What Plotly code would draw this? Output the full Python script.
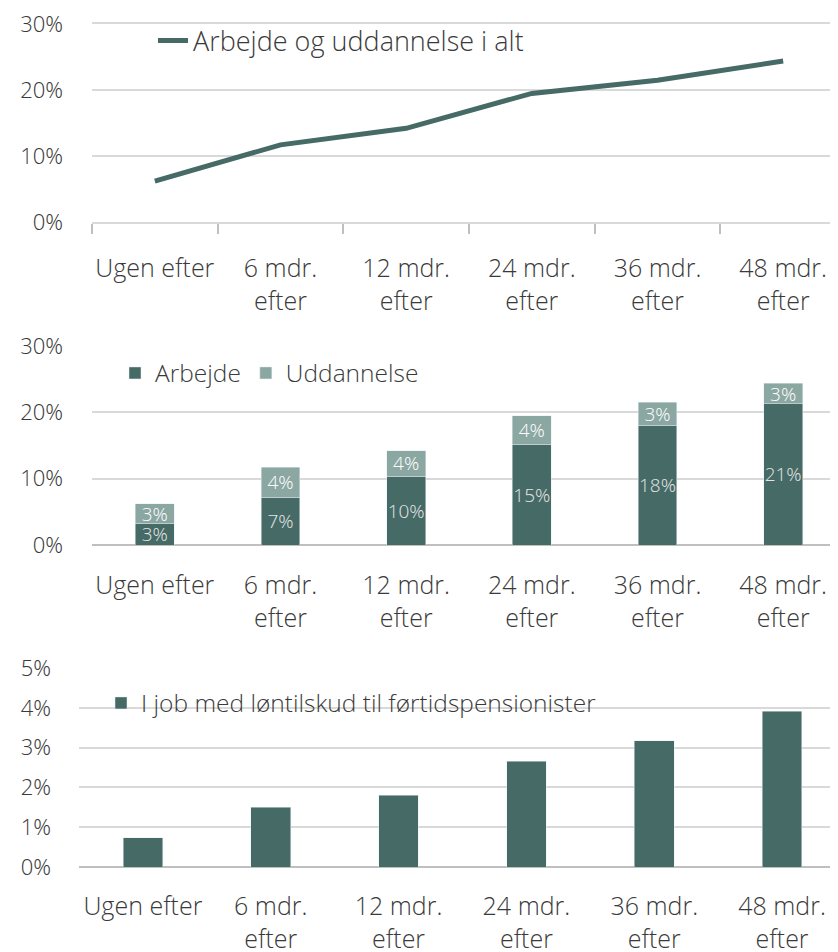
import plotly.graph_objects as go

categories = ["Ugen efter", "6 mdr.<br>efter", "12 mdr.<br>efter", "24 mdr.<br>efter", "36 mdr.<br>efter", "48 mdr.<br>efter"]

# top panel: total share in work or education
total = [0.062, 0.117, 0.142, 0.195, 0.215, 0.244]

# middle panel: split into work and education
arbejde = [0.033, 0.072, 0.104, 0.152, 0.181, 0.213]
uddannelse = [0.029, 0.045, 0.038, 0.043, 0.034, 0.031]

# bottom panel: wage subsidy jobs
loentilskud = [0.0073, 0.015, 0.018, 0.0266, 0.0317, 0.0392]

dark = "#466a66"
light = "#8ba7a2"
grid = "#d9d9d9"
family = "Open Sans Light, Lato Light, Open Sans, sans-serif"
font = dict(family=family, size=22, color="#3a3a3a", weight=300)
xfont = dict(font, size=25)
legfont = dict(font, size=24.5)

fig = go.Figure()

fig.add_trace(go.Scatter(
    x=categories, y=total, mode="lines", name="Arbejde og uddannelse i alt",
    line=dict(color=dark, width=5), xaxis="x", yaxis="y", legend="legend", showlegend=True,
))

fig.add_trace(go.Bar(
    x=categories, y=arbejde, name="Arbejde", marker=dict(color=dark), showlegend=True,
    text=[f"{v:.0%}" for v in arbejde], textposition="inside", insidetextanchor="middle",
    textangle=0, constraintext="none",
    textfont=dict(color="#e4e4e4", size=19, family=family), xaxis="x2", yaxis="y2", legend="legend2",
))
fig.add_trace(go.Bar(
    x=categories, y=uddannelse, name="Uddannelse", marker=dict(color=light), showlegend=True,
    text=[f"{v:.0%}" for v in uddannelse], textposition="inside", insidetextanchor="middle",
    textangle=0, constraintext="none",
    textfont=dict(color="#ffffff", size=19, family=family), xaxis="x2", yaxis="y2", legend="legend2",
))

fig.add_trace(go.Bar(
    x=categories, y=loentilskud, name="I job med løntilskud til førtidspensionister",
    marker=dict(color=dark), xaxis="x3", yaxis="y3", legend="legend3", showlegend=True,
))

# the page puts the figure 8px in from the top-left corner
OFF = 8
H = 952.0
W = 838.0

def py(pix):
    return 1 - (pix - OFF) / H

def px(pix):
    return (pix - OFF) / W

xcommon = dict(type="category", showgrid=False, tickfont=xfont, ticks="", showline=False,
               fixedrange=True, zeroline=False, automargin=False, range=[-0.5, 5.5],
               tickangle=0)
ycommon = dict(showgrid=True, gridcolor=grid, gridwidth=2, tickformat=".0%", tickfont=font,
               zeroline=True, zerolinecolor="#bfbfbf", zerolinewidth=2, ticks="",
               ticklabelstandoff=28, automargin=False, tickmode="array",
               ticklabeloverflow="allow")

legend_common = dict(font=legfont, bgcolor="rgba(0,0,0,0)", orientation="h", yanchor="middle",
                     xanchor="left", itemclick=False, traceorder="normal")

pct30 = [0, 0.1, 0.2, 0.3]
pct5 = [0, 0.01, 0.02, 0.03, 0.04, 0.05]

fig.update_layout(
    width=838, height=952,
    margin=dict(l=0, r=0, t=0, b=0),
    paper_bgcolor="white", plot_bgcolor="white",
    font=font,
    barmode="stack",
    bargap=0.69,
    # top panel: mirrored axis line stands in for the 30% gridline at the plot edge
    xaxis=dict(xcommon, domain=[px(92), 1], anchor="y", ticks="outside", tickson="boundaries",
               ticklen=10, tickcolor="#bfbfbf", tickwidth=2, ticklabelstandoff=23,
               showline=True, mirror=True, linecolor=grid, linewidth=2),
    yaxis=dict(ycommon, domain=[py(222), py(24)], range=[0, 0.3002], tickvals=pct30, anchor="x"),
    xaxis2=dict(xcommon, domain=[px(92), 1], anchor="y2", ticklabelstandoff=23),
    yaxis2=dict(ycommon, domain=[py(545), py(346)], range=[0, 0.3002], tickvals=pct30, anchor="x2"),
    xaxis3=dict(xcommon, domain=[px(79), 1], anchor="y3", ticklabelstandoff=22),
    yaxis3=dict(ycommon, domain=[py(867), py(668)], range=[0, 0.05004], tickvals=pct5, anchor="x3",
                ticklabelstandoff=27),
    legend=dict(legend_common, x=px(153), y=py(41), font=dict(legfont, size=27)),
    legend2=dict(legend_common, x=px(115), y=py(373)),
    legend3=dict(legend_common, x=px(101), y=py(703)),
)

fig.write_html("out.html", config=dict(displayModeBar=False))
